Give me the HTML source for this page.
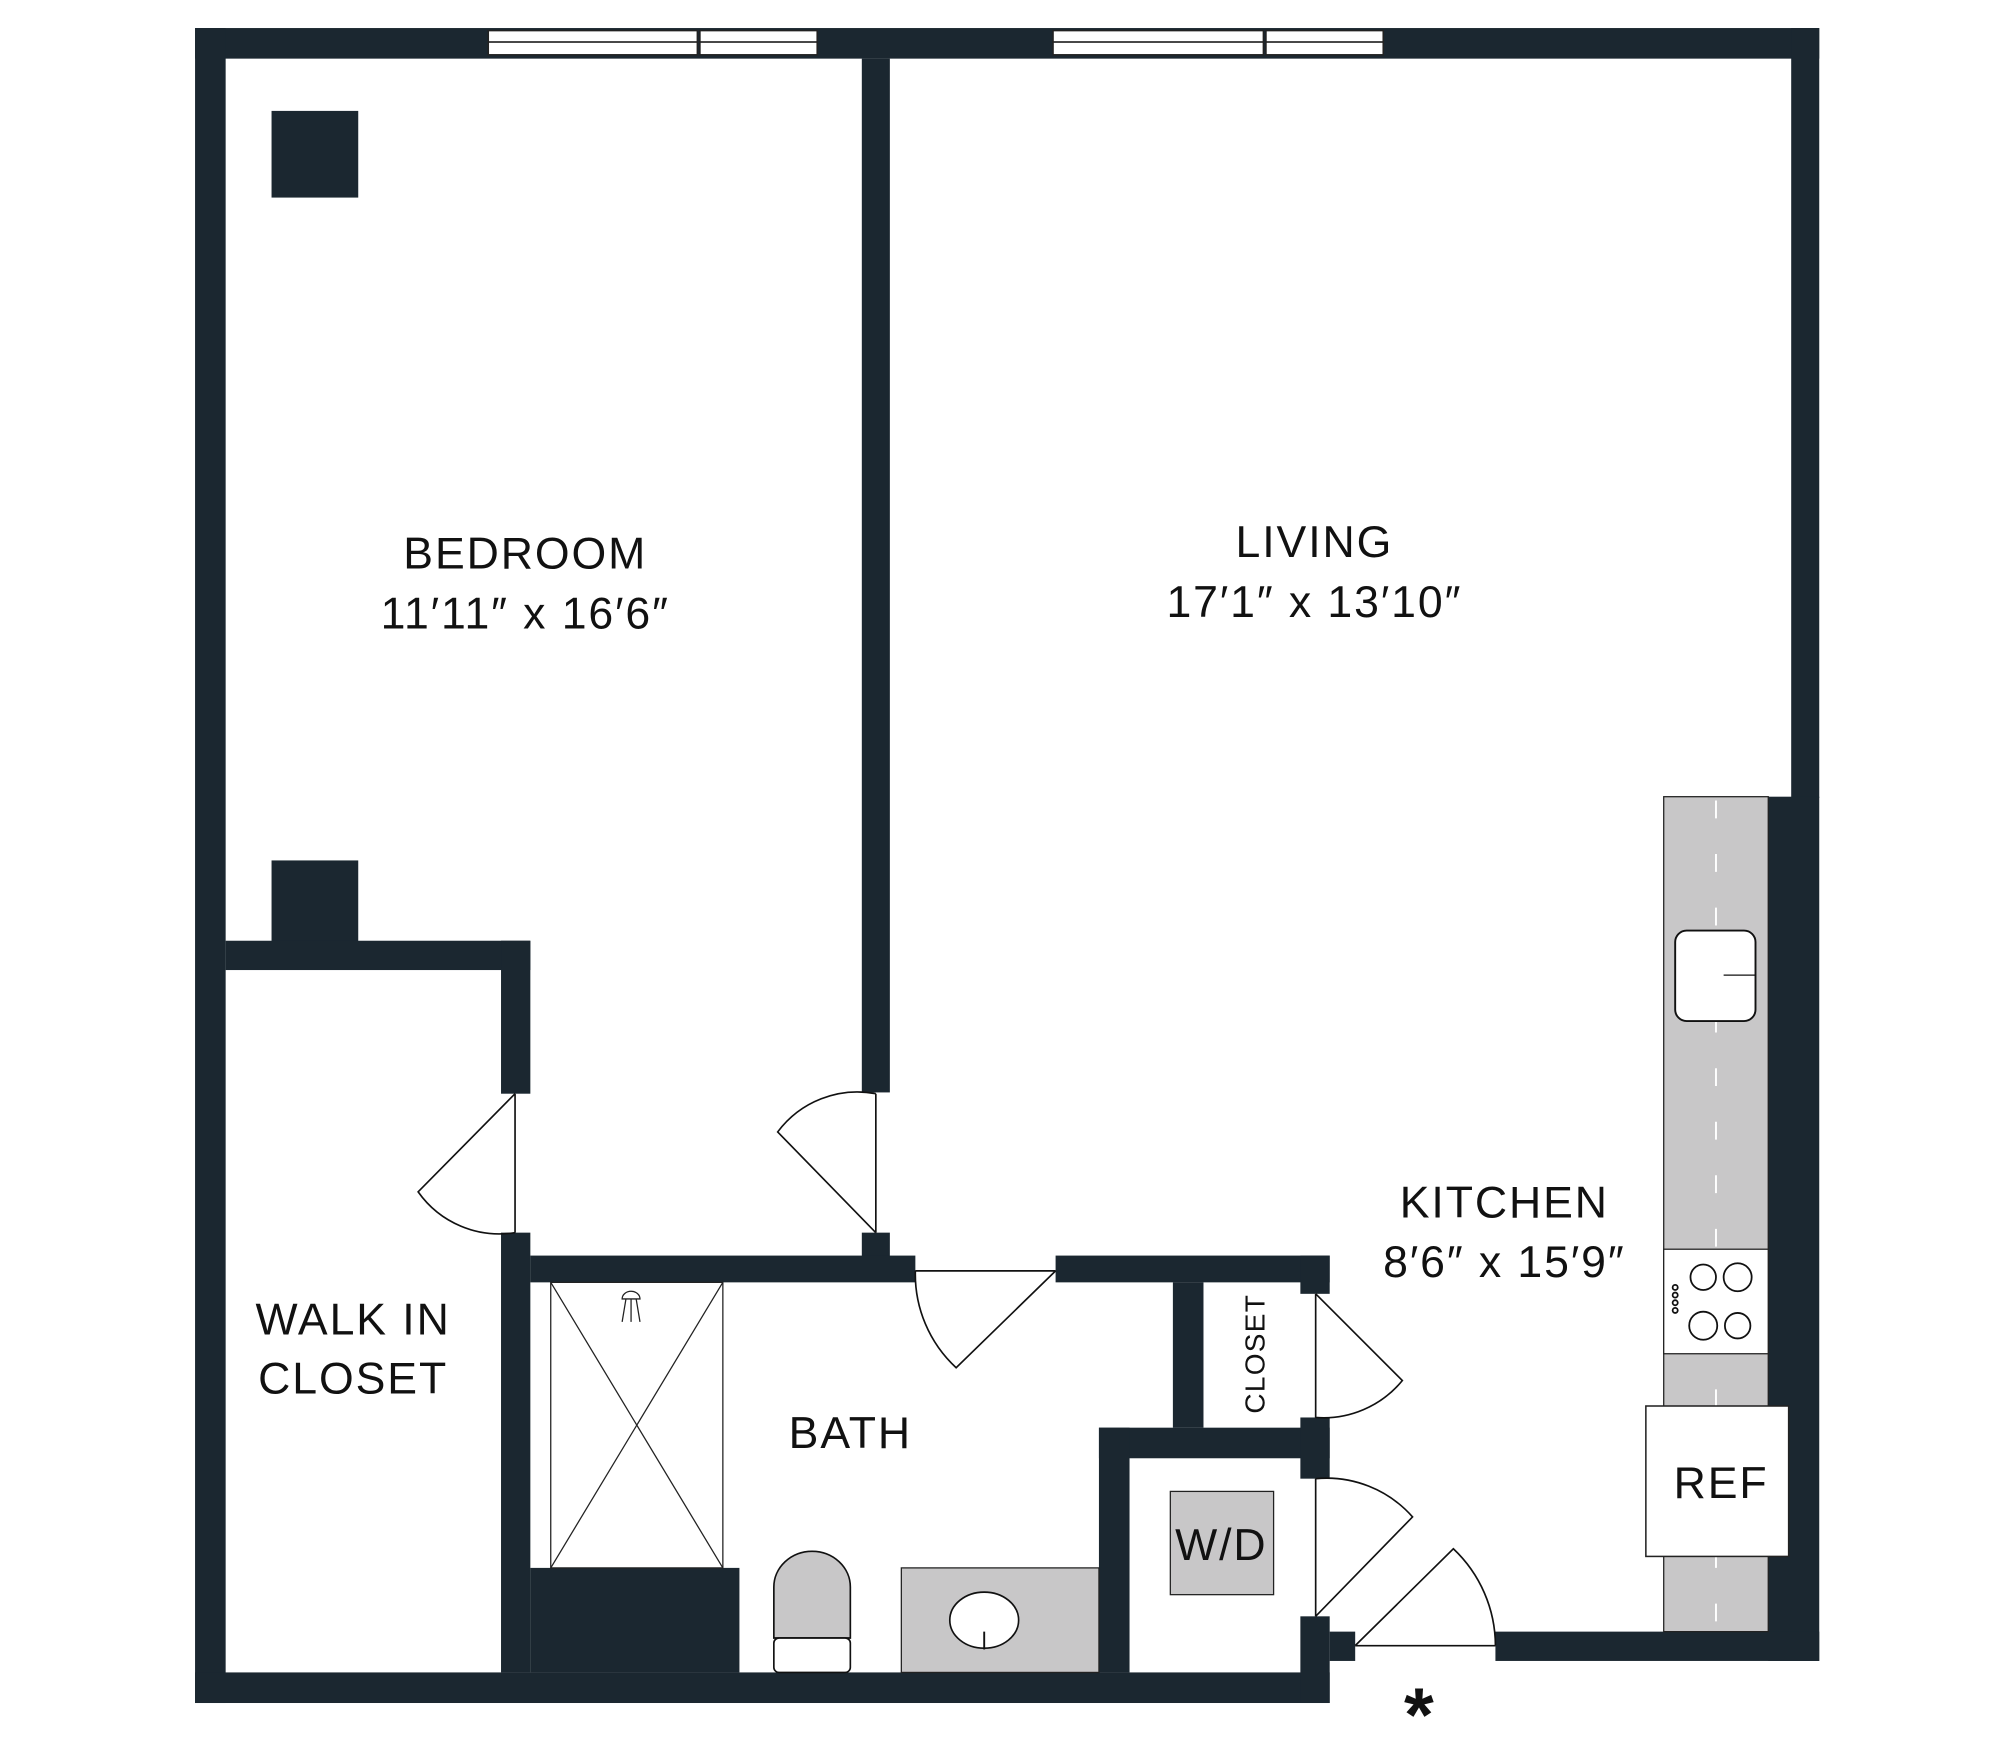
<!DOCTYPE html>
<html><head><meta charset="utf-8"><style>
html,body{margin:0;padding:0;background:#fff;}
svg{display:block;}
text{font-family:"Liberation Sans",sans-serif;fill:#111;}
</style></head><body>
<svg width="1999" height="1754" viewBox="0 0 1568 1376" preserveAspectRatio="none" xmlns="http://www.w3.org/2000/svg">
<g fill="#1b2730">
<rect x="153" y="22" width="1274" height="24"/>
<rect x="153" y="22" width="24" height="1314"/>
<rect x="1405" y="22" width="22" height="604"/>
<rect x="1387" y="625" width="40" height="678"/>
<rect x="1173" y="1280" width="254" height="23"/>
<rect x="153" y="1312" width="890" height="24"/>
<rect x="676" y="46" width="22" height="811"/>
<rect x="676" y="967" width="22" height="23"/>
<rect x="213" y="87" width="68" height="68"/>
<rect x="213" y="675" width="68" height="70"/>
<rect x="177" y="738" width="239" height="23"/>
<rect x="393" y="738" width="23" height="120"/>
<rect x="393" y="967" width="23" height="345"/>
<rect x="416" y="985" width="302" height="21"/>
<rect x="828" y="985" width="215" height="21"/>
<rect x="1020" y="985" width="23" height="30"/>
<rect x="920" y="1006" width="24" height="114"/>
<rect x="862" y="1120" width="181" height="24"/>
<rect x="1020" y="1112" width="23" height="48"/>
<rect x="862" y="1120" width="24" height="192"/>
<rect x="1020" y="1268" width="23" height="68"/>
<rect x="1043" y="1280" width="20" height="23"/>
<rect x="416" y="1230" width="164" height="82"/>
</g>
<g fill="#fff" stroke="#222" stroke-width="1.2">
<rect x="383" y="24" width="164" height="9"/><rect x="383" y="33" width="164" height="10"/>
<rect x="549" y="24" width="92" height="9"/><rect x="549" y="33" width="92" height="10"/>
<rect x="826" y="24" width="165" height="9"/><rect x="826" y="33" width="165" height="10"/>
<rect x="993" y="24" width="92" height="9"/><rect x="993" y="33" width="92" height="10"/>
</g>
<rect x="1305" y="625" width="82" height="655" fill="#c8c7c8" stroke="#222" stroke-width="1"/>
<line x1="1346" y1="628" x2="1346" y2="1280" stroke="#fff" stroke-width="1.5" stroke-dasharray="14,28"/>
<rect x="1314" y="730" width="63" height="71" rx="9" fill="#fff" stroke="#111" stroke-width="1.5"/>
<line x1="1352" y1="765" x2="1377" y2="765" stroke="#111" stroke-width="1"/>
<rect x="1305" y="980" width="82" height="82" fill="#fff" stroke="#222" stroke-width="1"/>
<g fill="none" stroke="#111" stroke-width="1.4">
<circle cx="1336" cy="1002" r="10"/><circle cx="1363" cy="1002" r="11"/>
<circle cx="1336" cy="1040" r="11"/><circle cx="1363" cy="1040" r="10"/>
<circle cx="1314" cy="1010" r="2"/><circle cx="1314" cy="1016" r="2"/><circle cx="1314" cy="1022" r="2"/><circle cx="1314" cy="1028" r="2"/>
</g>
<rect x="1291" y="1103" width="112" height="118" fill="#fff" stroke="#222" stroke-width="1.2"/>
<g stroke="#222" stroke-width="1" fill="none">
<rect x="432" y="1006" width="135" height="224"/>
<line x1="432" y1="1006" x2="567" y2="1230"/><line x1="567" y1="1006" x2="432" y2="1230"/>
<path d="M488 1019 a7 6 0 0 1 14 0 z M491 1019 l-3 18 M495 1019 v18 M499 1019 l3 18"/>
</g>
<path d="M607 1285 V1245 a30 28 0 0 1 60 0 V1285 z" fill="#c8c7c8" stroke="#111" stroke-width="1.3"/>
<rect x="607" y="1285" width="60" height="27" rx="4" fill="#fff" stroke="#111" stroke-width="1.3"/>
<rect x="707" y="1230" width="155" height="82" fill="#c8c7c8" stroke="#222" stroke-width="1"/>
<ellipse cx="772" cy="1271" rx="27" ry="22" fill="#fff" stroke="#111" stroke-width="1.3"/>
<line x1="772" y1="1280" x2="772" y2="1294" stroke="#111" stroke-width="1.5"/>
<rect x="918" y="1170" width="81" height="81" fill="#c8c7c8" stroke="#222" stroke-width="1"/>
<g stroke="#111" stroke-width="1.3" fill="none">
<path d="M404 858 V967 M404 858 L328 935 A78 78 0 0 0 404 967"/>
<path d="M687 858 V967 M687 967 L610 888 A78 78 0 0 1 687 858"/>
<path d="M718 997 H828 M828 997 L750 1073 A100 100 0 0 1 718 997"/>
<path d="M1032 1015 V1112 M1032 1015 L1100 1083 A80 80 0 0 1 1032 1112"/>
<path d="M1032 1160 V1268 M1032 1268 L1108 1190 A90 90 0 0 0 1032 1160"/>
<path d="M1063 1291 H1173 M1063 1291 L1140 1215 A105 105 0 0 1 1173 1291"/>
</g>
<g text-anchor="middle" font-size="35" letter-spacing="1.5">
<text x="412" y="446">BEDROOM</text>
<text x="412" y="493">11′11″ x 16′6″</text>
<text x="1031" y="437">LIVING</text>
<text x="1031" y="484">17′1″ x 13′10″</text>
<text x="1180" y="955">KITCHEN</text>
<text x="1180" y="1002">8′6″ x 15′9″</text>
<text x="277" y="1047">WALK IN</text>
<text x="277" y="1093">CLOSET</text>
<text x="667" y="1136">BATH</text>
<text x="958" y="1224">W/D</text>
<text x="1350" y="1175">REF</text>
<text x="1113" y="1366" font-size="60" font-weight="bold" letter-spacing="0">*</text>
<text x="993" y="1062" font-size="22" letter-spacing="1" transform="rotate(-90 993 1062)" dy="-1">CLOSET</text>
</g>
</svg>
</body></html>
